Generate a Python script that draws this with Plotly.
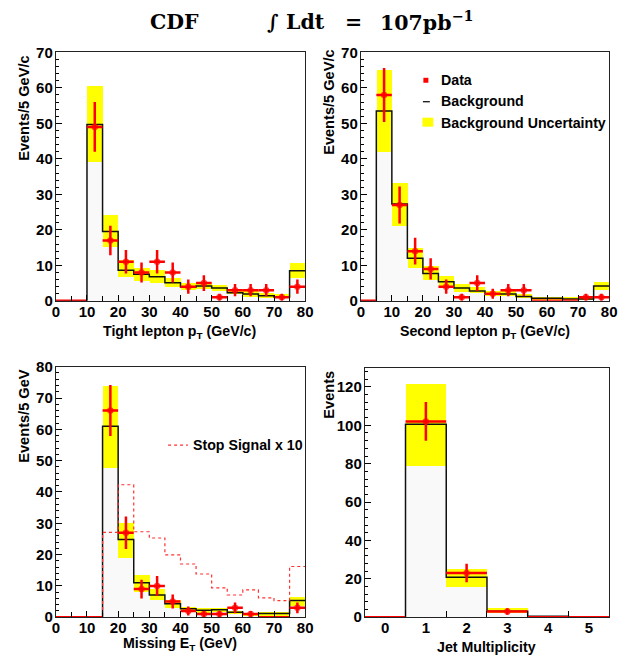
import numpy as np
import plotly.graph_objects as go

W, H = 633, 656

# ---------------- data ----------------
pt_edges = list(range(0, 85, 5))

tight_bkg = [0, 0, 49.7, 19.5, 8.6, 7.5, 6.8, 5.1, 3.9, 4.2, 3.6, 2.3, 1.9, 1.4, 1.1, 8.5]
tight_lo = [0, 0, 39.0, 15.0, 6.6, 5.6, 4.9, 3.8, 3.0, 3.3, 2.6, 1.7, 1.1, 0.8, 0.6, 6.4]
tight_hi = [0, 0, 60.4, 24.0, 11.3, 9.2, 8.5, 6.4, 4.9, 5.2, 4.5, 3.0, 2.6, 2.2, 1.7, 10.5]
tight_data = [0, 0, 49, 17, 11, 8, 11, 8, 4, 5, 1, 3, 3, 3, 1, 4]

second_bkg = [0, 53.5, 27.3, 12.0, 7.7, 5.4, 3.6, 2.8, 1.9, 1.9, 1.2, 0.75, 0.75, 0.55, 0.55, 4.2]
second_lo = [0, 41.9, 21.0, 9.2, 5.8, 3.7, 2.3, 2.0, 1.2, 1.2, 0.6, 0.2, 0.2, 0.2, 0.2, 3.0]
second_hi = [0, 64.8, 33.2, 14.8, 9.6, 6.8, 4.7, 3.7, 2.6, 2.6, 1.7, 1.1, 1.1, 0.9, 0.9, 5.2]
second_data = [0, 58, 27, 14, 9, 4, 1, 5, 2, 3, 3, 0, 0, 0, 1, 1]

met_bkg = [0, 0, 0, 61.0, 24.8, 11.0, 7.1, 4.3, 2.7, 2.2, 2.4, 1.6, 1.1, 1.2, 1.2, 5.3]
met_lo = [0, 0, 0, 47.8, 19.1, 8.3, 5.5, 3.0, 1.9, 1.6, 1.7, 1.0, 0.5, 0.6, 0.6, 3.6]
met_hi = [0, 0, 0, 74.0, 30.1, 13.6, 9.0, 5.7, 3.4, 3.0, 3.1, 2.1, 1.6, 1.7, 1.7, 6.6]
met_data = [0, 0, 0, 66, 27, 9, 10, 5, 2, 1, 1, 3, 1, 0, 0, 3]
met_signal_x10 = [0, 0, 0, 27.1, 42.3, 27.3, 25.3, 19.9, 17.0, 13.8, 9.4, 7.1, 8.7, 6.2, 5.3, 16.2]

njet_edges = [-0.5, 0.5, 1.5, 2.5, 3.5, 4.5, 5.5]
njet_labels = [0, 1, 2, 3, 4, 5]
njet_bkg = [0, 100.6, 20.8, 3.1, 0.5, 0]
njet_lo = [0, 78.9, 16.1, 2.1, 0.2, 0]
njet_hi = [0, 121.7, 25.5, 4.7, 0.8, 0]
njet_data = [0, 102, 23, 3, 0, 0]

# ---------------- layout geometry ----------------
# screen-pixel -> figure-pixel compensation for the page offset / scaling seen in the capture
SX, OX = 0.9875, 7.9
SY, OY = 0.976, 15.6


def fx(p):
    return ((p - OX) / SX) / W


def fy(p):
    return 1 - ((p - OY) / SY) / H


panels = {
    1: dict(x=(52, 303), y=(51, 300)),
    2: dict(x=(359, 609), y=(51, 300)),
    3: dict(x=(52, 303), y=(366, 617)),
    4: dict(x=(363, 609), y=(367, 617)),
}

FONT = "Liberation Sans"
RED = "#ff0000"
YEL = "#ffff00"

fig = go.Figure()


def add_hist(n, edges, bkg, lo, hi):
    xa = "x" if n == 1 else f"x{n}"
    ya = "y" if n == 1 else f"y{n}"
    edges = np.array(edges, dtype=float)
    centers = (edges[:-1] + edges[1:]) / 2
    widths = edges[1:] - edges[:-1]
    lo = np.array(lo, dtype=float)
    hi = np.array(hi, dtype=float)
    fig.add_trace(go.Bar(x=centers, y=lo, width=widths, marker=dict(color="#f9f9f9", line=dict(width=0)),
                         xaxis=xa, yaxis=ya, hoverinfo="skip"))
    fig.add_trace(go.Bar(x=centers, y=hi - lo, base=lo, width=widths,
                         marker=dict(color=YEL, line=dict(width=0)), xaxis=xa, yaxis=ya))
    fig.add_trace(go.Scatter(x=list(edges), y=list(bkg) + [bkg[-1]], mode="lines", line_shape="hv",
                             line=dict(color="#111111", width=1.5), xaxis=xa, yaxis=ya))
    return centers, widths


def add_data(n, centers, widths, data):
    xa = "x" if n == 1 else f"x{n}"
    ya = "y" if n == 1 else f"y{n}"
    d = np.array(data, dtype=float)
    fig.add_trace(go.Scatter(
        x=centers, y=d, mode="markers",
        marker=dict(color=RED, size=[0 if v == 0 else 6.5 for v in d], line=dict(width=0)),
        error_y=dict(type="data", array=np.sqrt(d), color=RED, thickness=2.5, width=0),
        error_x=dict(type="data", array=widths / 2, color=RED, thickness=2.5, width=0),
        xaxis=xa, yaxis=ya))


c, w = add_hist(1, pt_edges, tight_bkg, tight_lo, tight_hi)
add_data(1, c, w, tight_data)

c, w = add_hist(2, pt_edges, second_bkg, second_lo, second_hi)
add_data(2, c, w, second_data)

c, w = add_hist(3, pt_edges, met_bkg, met_lo, met_hi)
fig.add_trace(go.Scatter(x=pt_edges, y=met_signal_x10 + [met_signal_x10[-1]], mode="lines", line_shape="hv",
                         line=dict(color="#ff3030", width=1.2, dash="dot"), xaxis="x3", yaxis="y3"))
add_data(3, c, w, met_data)

c, w = add_hist(4, njet_edges, njet_bkg, njet_lo, njet_hi)
add_data(4, c, w, njet_data)

tickfont = dict(family=FONT, size=15, color="black", weight="bold")
axis_common = dict(showgrid=False, zeroline=False, showline=True, mirror=True, linecolor="#222222",
                   linewidth=1, ticks="inside", tickcolor="black", tickfont=tickfont)

yranges = {1: 70, 2: 70, 3: 80, 4: 130}
ydticks = {1: 10, 2: 10, 3: 10, 4: 20}
yminor = {1: 2, 2: 2, 3: 2, 4: 4}

for n, g in panels.items():
    sx = "" if n == 1 else str(n)
    xdom = [fx(g["x"][0]), fx(g["x"][1])]
    ydom = [fy(g["y"][1]), fy(g["y"][0])]
    if n == 4:
        xaxis = dict(domain=xdom, range=[-0.5, 5.5], tickvals=njet_labels, ticklen=0,
                     minor=dict(tick0=0.5, dtick=1, ticks="inside", ticklen=6, tickcolor="black"),
                     ticklabelstandoff=-3, anchor="y" + sx, **axis_common)
    else:
        xaxis = dict(domain=xdom, range=[0, 80], tick0=0, dtick=10, ticklen=6,
                     minor=dict(dtick=5, ticks="inside", ticklen=5, tickcolor="black"),
                     ticklabelstandoff=-3, anchor="y" + sx, **axis_common)
    yaxis = dict(domain=ydom, range=[0, yranges[n]], tick0=0, dtick=ydticks[n], ticklen=6,
                 minor=dict(dtick=yminor[n], ticks="inside", ticklen=3, tickcolor="black"),
                 ticklabelstandoff=-1, anchor="x" + sx, **axis_common)
    fig.layout["xaxis" + sx] = xaxis
    fig.layout["yaxis" + sx] = yaxis

ann = []
tf = dict(family=FONT, size=14.2, color="black", weight="bold")
yt = dict(family=FONT, size=14.6, color="black", weight="bold")


def text(x, y, s, xanchor="center", yanchor="middle", angle=0, font=tf):
    ann.append(dict(x=fx(x), y=fy(y), xref="paper", yref="paper", text=s, showarrow=False,
                    xanchor=xanchor, yanchor=yanchor, textangle=angle, font=font))


# axis titles
text(177, 331, "Tight lepton p<sub>T</sub> (GeV/c)")
text(484, 331, "Second lepton p<sub>T</sub> (GeV/c)")
text(177, 644, "Missing E<sub>T</sub> (GeV)")
text(486, 647, "Jet Multiplicity")
text(20, 53, "Events/5 GeV/c", yanchor="top", angle=-90, font=yt)
text(327, 47, "Events/5 GeV/c", yanchor="top", angle=-90, font=yt)
text(20, 366, "Events/5 GeV", yanchor="top", angle=-90, font=yt)
text(327, 368, "Events", yanchor="top", angle=-90, font=yt)

# legend
text(438, 79, "Data", xanchor="left")
text(438, 99.5, "Background", xanchor="left")
text(438, 121.5, "Background Uncertainty", xanchor="left")
text(188, 444, "Stop Signal x 10", xanchor="left")

# title
serif = dict(family="DejaVu Serif", size=20.5, color="black", weight="bold")
text(171, 20.5, "CDF", font=serif)
text(263, 20.5, "∫ Ldt", xanchor="left", font=serif)
text(352, 20.5, "=", font=serif)
text(376, 20.5, "107pb<sup>−1</sup>", xanchor="left", font=serif)

shapes = [
    dict(type="rect", xref="paper", yref="paper", x0=fx(422), x1=fx(427), y0=fy(81.5), y1=fy(76.5),
         fillcolor=RED, line=dict(width=0)),
    dict(type="line", xref="paper", yref="paper", x0=fx(421.5), x1=fx(428.5), y0=fy(100.5), y1=fy(100.5),
         line=dict(color="black", width=1.2)),
    dict(type="rect", xref="paper", yref="paper", x0=fx(421), x1=fx(432), y0=fy(125.5), y1=fy(116.5),
         fillcolor=YEL, line=dict(width=0)),
    dict(type="line", xref="paper", yref="paper", x0=fx(165), x1=fx(185), y0=fy(444.5), y1=fy(444.5),
         line=dict(color="#ff3030", width=1.2, dash="dot")),
]

fig.update_layout(width=W, height=H, margin=dict(l=0, r=0, t=0, b=0), autosize=False,
                  paper_bgcolor="white", plot_bgcolor="white", showlegend=False,
                  barmode="overlay", bargap=0, annotations=ann, shapes=shapes)

fig.write_html("out.html")
